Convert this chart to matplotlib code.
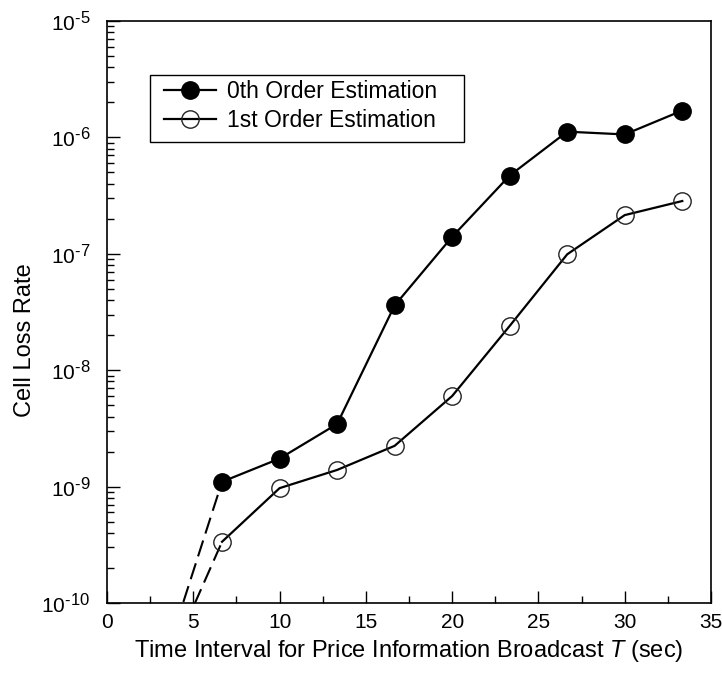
import matplotlib
matplotlib.use("Agg")
import matplotlib.pyplot as plt
from matplotlib.ticker import LogLocator, FixedLocator, NullFormatter
from matplotlib.patches import Rectangle
try:
    import matplotlib._mathtext as _mt
    _mt.SHRINK_FACTOR = 0.8
except Exception:
    pass

plt.rcParams['font.family'] = ['Liberation Sans', 'DejaVu Sans']
plt.rcParams['mathtext.fontset'] = 'custom'
plt.rcParams['mathtext.rm'] = 'Liberation Sans'
plt.rcParams['mathtext.it'] = 'Liberation Sans:italic'

# Data
T = [20/3, 10, 40/3, 50/3, 20, 70/3, 80/3, 30, 100/3]
zeroth = [1.1e-9, 1.74e-9, 3.45e-9, 3.6e-8, 1.4e-7, 4.7e-7, 1.12e-6, 1.06e-6, 1.7e-6]
first = [3.36e-10, 9.7e-10, 1.39e-9, 2.24e-9, 6.0e-9, 2.4e-8, 9.9e-8, 2.15e-7, 2.84e-7]
# dashed extrapolations below the axis
zeroth_ext_T = [4.0, 20/3]
zeroth_ext = [6.5e-11, 1.1e-9]
first_ext_T = [4.5, 20/3]
first_ext = [6.3e-11, 3.36e-10]

xticks = [0, 5, 10, 15, 20, 25, 30, 35]
yticks = [1e-10, 1e-9, 1e-8, 1e-7, 1e-6, 1e-5]
ytick_exps = ['-10', '-9', '-8', '-7', '-6', '-5']

fig = plt.figure(figsize=(7.22, 6.77), dpi=100)
ax = fig.add_axes([0.1482, 0.1093, 0.8366, 0.8597])

ax.plot(zeroth_ext_T, zeroth_ext, color='black', lw=1.5, dashes=(8, 3.5))
ax.plot(first_ext_T, first_ext, color='black', lw=1.5, dashes=(8, 3.5))
ax.plot(T, zeroth, color='black', lw=1.6, marker='o', ms=12.5,
        mfc='black', mec='black', label='0th Order Estimation')
ax.plot(T, first, color='black', lw=1.6, marker='o', ms=12.5,
        mfc='none', mec='#222222', mew=1.0, label='1st Order Estimation')

ax.set_yscale('log')
ax.set_xlim(0, 35)
ax.set_ylim(1e-10, 1e-5)
ax.set_xticks(xticks)
ax.set_xticklabels([str(t) for t in xticks])
ax.xaxis.set_minor_locator(FixedLocator([2.5, 7.5, 12.5, 17.5, 22.5, 27.5, 32.5]))
ax.yaxis.set_minor_locator(LogLocator(base=10, subs=range(2, 10), numticks=20))
ax.yaxis.set_minor_formatter(NullFormatter())
ax.set_yticks(yticks)
ax.set_yticklabels([r'10$^{\text{%s}}$' % e for e in ytick_exps])

ax.tick_params(which='both', direction='in', top=False, right=False, labelsize=15,
               width=1, color='black')
ax.tick_params(which='major', length=9)
ax.tick_params(which='minor', length=5)
ax.tick_params(axis='x', pad=7)
ax.tick_params(axis='y', pad=12)

for s in ax.spines.values():
    s.set_linewidth(1.2)
    s.set_color('black')

ax.set_xlabel(r'Time Interval for Price Information Broadcast $\mathit{T}$ (sec)', fontsize=17, labelpad=4.5)
ax.set_ylabel('Cell Loss Rate', fontsize=17)
ax.yaxis.set_label_coords(-0.118, 0.452)

# legend frame drawn as a rectangle, legend content without frame
ax.add_patch(Rectangle((0.0712, 0.792), 0.5198, 0.115, transform=ax.transAxes,
                       fill=False, edgecolor='black', lw=1.0, zorder=5))
leg = ax.legend(loc='upper left', bbox_to_anchor=(0.0861, 0.907), fontsize=16.5,
                frameon=False, handlelength=2.27, handletextpad=0.48,
                borderpad=0.22, labelspacing=0.24, borderaxespad=0)

fig.savefig('out.png', dpi=100)
